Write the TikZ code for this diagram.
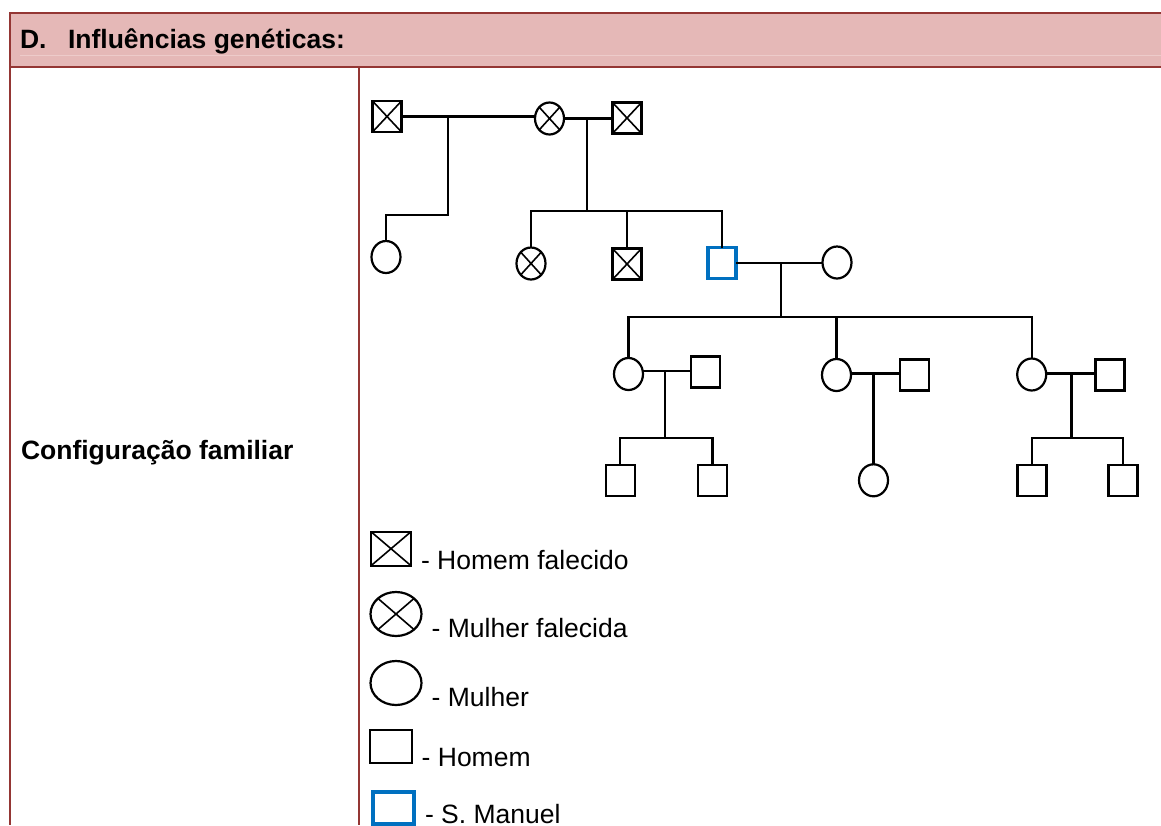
\documentclass[tikz,border=0pt]{standalone}
\usepackage{fontspec}
\setmainfont{Liberation Sans}
\usetikzlibrary{shapes.geometric}
\definecolor{bord}{HTML}{943634}
\definecolor{headfill}{HTML}{E5B8B7}
\definecolor{headline}{HTML}{EDCBCA}
\definecolor{manuel}{HTML}{0070C0}
\begin{document}
\begin{tikzpicture}[x=1pt,y=-1pt,
  every node/.style={inner sep=0pt, outer sep=0pt},
  man/.style={draw, line width=2.2pt, rectangle, minimum width=29pt, minimum height=31pt},
  woman/.style={draw, line width=2.2pt, ellipse, minimum width=29pt, minimum height=32pt},
  dead/.style={path picture={\draw[line width=1.6pt] (path picture bounding box.north west) -- (path picture bounding box.south east)
      (path picture bounding box.north east) -- (path picture bounding box.south west);}},
  self/.style={draw=manuel, line width=3.5pt, rectangle, minimum width=28pt, minimum height=31pt},
  link/.style={line width=2.2pt},
  lbl/.style={anchor=base west, font=\fontsize{26.5}{30}\selectfont},
  hdr/.style={anchor=base west, font=\fontsize{26.5}{30}\selectfont\bfseries},
  rule/.style={draw=bord, line width=2pt}]
\useasboundingbox (0,0) rectangle (1161,825);
% table
\fill[headfill] (10,13) rectangle (1161,67);
\draw[headline, line width=1pt] (20,55) -- (1161,55);
\draw[rule] (1161,13) -- (10,13) -- (10,825);
\draw[rule] (10,67) -- (1161,67);
\draw[rule] (358.5,67) -- (358.5,825);
\node[hdr] (hD) at (20,48) {D.};
\node[hdr] (hT) at (68,48) {Influências genéticas:};
\node[hdr] (cf) at (21,459) {Configuração familiar};
% generation 1
\node[man, dead] (A) at (387,116.5) {};
\node[woman, dead] (B) at (549.5,118.5) {};
\node[man, dead] (C) at (627,118) {};
\draw[link] (A.east) -- (A.east -| B.west);
\draw[link] (B.east) -- (B.east -| C.west);
\coordinate (j1) at (448,116.5);
\coordinate (k1) at (448,215);
\coordinate (j2) at (587,117.5);
\coordinate (b1) at (587,211);
% generation 2
\node[woman] (D) at (386,257) {};
\node[woman, dead] (E) at (531,263.5) {};
\node[man, dead] (F) at (627,264) {};
\node[self] (G) at (722,263) {};
\node[woman] (H) at (837,262.5) {};
\draw[link] (j1) -- (k1) -| (D.north);
\draw[link] (j2) -- (b1);
\draw[link] (E.north) |- (b1) -| (G.north);
\draw[link] (F.north) -- (F.north |- b1);
\draw[link] (G.east) -- (G.east -| H.west);
\coordinate (j3) at (781,262.5);
\coordinate (b2) at (781,317.3);
% generation 3
\node[woman] (I) at (628.5,374) {};
\node[man] (J) at (705.4,372) {};
\node[woman] (M) at (836.5,375) {};
\node[man] (N) at (914.6,375) {};
\node[woman] (P) at (1031.7,374.5) {};
\node[man] (Q) at (1110,375) {};
\draw[link] (j3) -- (b2);
\draw[link] (I.north) |- (b2) -| (P.north);
\draw[link] (M.north) -- (M.north |- b2);
\draw[link] (I.east |- 0,371) -- (J.west |- 0,371);
\draw[link] (M.east |- 0,373.5) -- (N.west |- 0,373.5);
\draw[link] (P.east |- 0,373.5) -- (Q.west |- 0,373.5);
\coordinate (j4) at (665,371);
\coordinate (b4) at (665,438.3);
\coordinate (j5) at (873.5,373.5);
\coordinate (j6) at (1071.4,373.5);
\coordinate (b6) at (1071.4,438.3);
% generation 4
\node[man] (K) at (620.2,480.3) {};
\node[man] (L) at (712.5,480.3) {};
\node[woman] (O) at (873.5,480.3) {};
\node[man] (R) at (1032,480.3) {};
\node[man] (S) at (1123,480.3) {};
\draw[link] (j4) -- (b4);
\draw[link] (K.north) |- (b4) -| (L.north);
\draw[link] (j5) -- (O.north);
\draw[link] (j6) -- (b6);
\draw[link] (R.north) |- (b6) -| (S.north);
% legend
\node[man, dead, minimum width=40pt, minimum height=34pt] (LA) at (391,548.7) {};
\node[lbl] (tA) at (421,569.3) {- Homem falecido};
\node[woman, dead, minimum width=51pt, minimum height=44pt] (LB) at (396,614) {};
\node[lbl] (tB) at (431.7,637.3) {- Mulher falecida};
\node[woman, minimum width=51pt, minimum height=44pt] (LC) at (396,683) {};
\node[lbl] (tC) at (431.7,706) {- Mulher};
\node[man, minimum width=42pt, minimum height=33pt] (LD) at (391.3,746.7) {};
\node[lbl] (tD) at (421.7,766) {- Homem};
\node[self, line width=4.3pt, minimum width=41pt, minimum height=32pt] (LE) at (393.3,808) {};
\node[lbl] (tE) at (425,823.5) {- S. Manuel};
\end{tikzpicture}
\end{document}
